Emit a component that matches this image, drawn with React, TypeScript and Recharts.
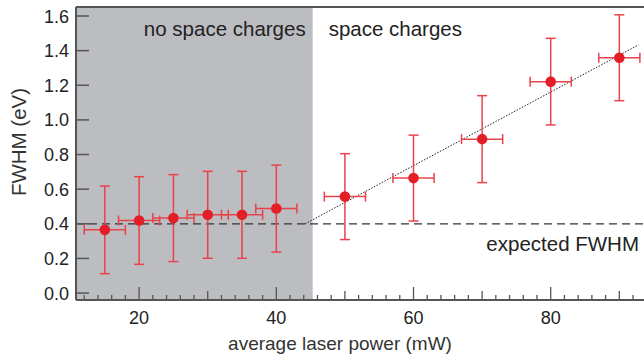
import React from "react";
import {
  ComposedChart,
  Scatter,
  ErrorBar,
  XAxis,
  YAxis,
  ReferenceArea,
  ReferenceLine,
} from "recharts";

// average laser power (mW)
const power = [15, 20, 25, 30, 35, 40, 50, 60, 70, 80, 90];
// FWHM (eV)
const fwhm = [0.365, 0.419, 0.433, 0.452, 0.452, 0.488, 0.557, 0.664, 0.889, 1.221, 1.359];
const fwhmErr = [0.253, 0.253, 0.251, 0.251, 0.251, 0.251, 0.248, 0.248, 0.251, 0.25, 0.248];
const powerErr = [3, 3, 3, 3, 3, 3, 3, 3, 3, 3, 3];

const expectedFwhm = 0.4;
const spaceChargeOnset = 45.3;
const fitLine = [
  { x: 44.2, y: 0.4 },
  { x: 92.8, y: 1.433 },
];

const xDomain = [10.8, 93.6];
const yDomain = [-0.04, 1.652];
const xTicks = [12, 14, 16, 18, 20, 22, 24, 26, 28, 30, 32, 34, 36, 38, 40, 42, 44, 46, 48, 50, 52, 54, 56, 58, 60, 62, 64, 66, 68, 70, 72, 74, 76, 78, 80, 82, 84, 86, 88, 90, 92];
const xLabels = [20, 40, 60, 80];
const yTicks = [0, 0.2, 0.4, 0.6, 0.8, 1.0, 1.2, 1.4, 1.6];

const data = power.map((p, i) => ({ x: p, y: fwhm[i], ex: powerErr[i], ey: fwhmErr[i] }));

const FONT = "'Liberation Sans', Arial, sans-serif";
const RED = "#e31e26";
const BAR_RED = "#e8434b";
const AXIS = "#555";

const XTick = (props: any) => {
  const { x, y, payload } = props;
  const v = payload.value;
  const len = v % 20 === 0 ? 13 : v % 10 === 0 ? 9 : 5;
  return (
    <g>
      <line x1={x} x2={x} y1={y} y2={y - len} stroke={AXIS} strokeWidth={1.3} />
      {xLabels.includes(v) && (
        <text x={x} y={y + 24} textAnchor="middle" fontSize={18} fontFamily={FONT} fill="#222">
          {v}
        </text>
      )}
    </g>
  );
};

const YTick = (props: any) => {
  const { x, y, payload } = props;
  return (
    <g>
      <line x1={x} x2={x + 13} y1={y} y2={y} stroke={AXIS} strokeWidth={1.5} />
      <text x={x - 7} y={y + 6.5} textAnchor="end" fontSize={18} fontFamily={FONT} fill="#222">
        {payload.value.toFixed(1)}
      </text>
    </g>
  );
};

export default function App() {
  return (
    <div style={{ position: "absolute", left: 0, top: 0, width: 644, height: 361, background: "#fff" }}>
      <ComposedChart width={644} height={361} data={data} margin={{ top: 7, right: 0, bottom: 0, left: 0 }}>
        <XAxis
          type="number"
          dataKey="x"
          domain={xDomain}
          ticks={xTicks}
          interval={0}
          allowDataOverflow
          height={61}
          tickSize={0}
          tickMargin={0}
          tickLine={false}
          axisLine={{ stroke: AXIS, strokeWidth: 2 }}
          tick={<XTick />}
          label={{
            content: () => (
              <text x={340} y={350} textAnchor="middle" fontSize={19} fontFamily={FONT} fill="#333">
                average laser power (mW)
              </text>
            ),
          }}
        />
        <YAxis
          type="number"
          domain={yDomain}
          ticks={yTicks}
          interval={0}
          allowDataOverflow
          width={76}
          tickSize={0}
          tickMargin={0}
          tickLine={false}
          axisLine={{ stroke: AXIS, strokeWidth: 2 }}
          tick={<YTick />}
          label={{
            content: () => (
              <text
                x={0}
                y={0}
                transform="translate(26,142) rotate(-90)"
                textAnchor="middle"
                fontSize={20.5}
                fontFamily={FONT}
                fill="#333"
              >
                FWHM (eV)
              </text>
            ),
          }}
        />
        <ReferenceArea
          x1={xDomain[0]}
          x2={spaceChargeOnset}
          y1={yDomain[0]}
          y2={yDomain[1]}
          fill="#bcbdc1"
          fillOpacity={1}
          stroke="none"
          ifOverflow="hidden"
          label={{
            content: (p: any) => {
              const vb = p.viewBox;
              return (
                <g fontFamily={FONT} fontSize={20.5} fill="#222">
                  <text x={vb.x + vb.width - 7} y={36} textAnchor="end">
                    no space charges
                  </text>
                  <text x={vb.x + vb.width + 16} y={36} textAnchor="start">
                    space charges
                  </text>
                </g>
              );
            },
          }}
        />
        <ReferenceLine y={yDomain[1]} stroke={AXIS} strokeWidth={2} ifOverflow="visible" />
        <ReferenceLine
          y={expectedFwhm}
          stroke="#333"
          strokeWidth={1.3}
          strokeDasharray="8 5"
          label={{
            content: () => (
              <text x={639} y={251} textAnchor="end" fontSize={20.5} fontFamily={FONT} fill="#222">
                expected FWHM
              </text>
            ),
          }}
        />
        <ReferenceLine segment={fitLine} stroke="#222" strokeWidth={1} strokeDasharray="1.5 1.5" ifOverflow="visible" />
        <Scatter
          dataKey="y"
          isAnimationActive={false}
          shape={(p: any) => <circle cx={p.cx} cy={p.cy} r={5.3} fill={RED} />}
        >
          <ErrorBar dataKey="ey" direction="y" width={5} stroke={BAR_RED} strokeWidth={1.5} />
          <ErrorBar dataKey="ex" direction="x" width={5} stroke={BAR_RED} strokeWidth={1.5} />
        </Scatter>
      </ComposedChart>
    </div>
  );
}
